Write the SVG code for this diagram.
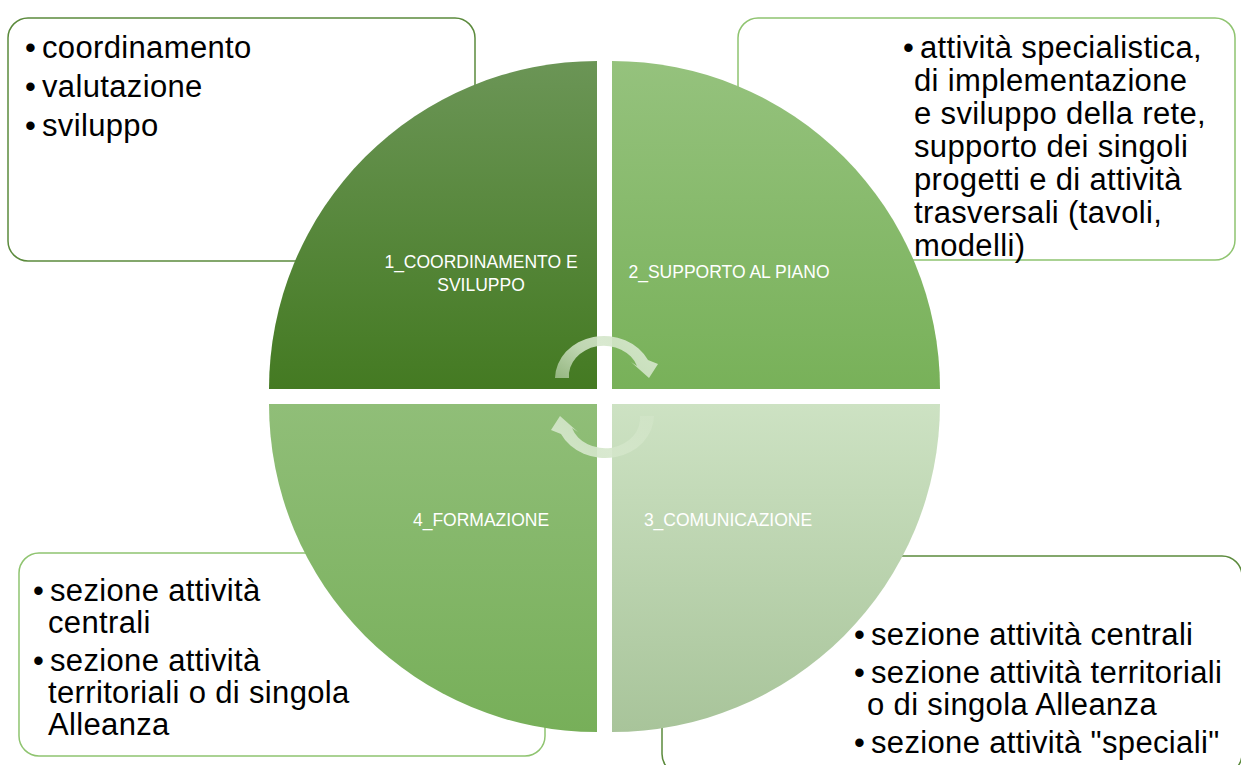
<svg xmlns="http://www.w3.org/2000/svg" width="1241" height="765" viewBox="0 0 1241 765">
<style>
.box{fill:#fff;stroke-width:1.5}
.dk{stroke:#5b8a3c}
.lt{stroke:#8fc470}
.t{font-family:"Liberation Sans",Arial,sans-serif;font-size:31px;letter-spacing:0.35px;fill:#000}
.q{font-family:"Liberation Sans",Arial,sans-serif;font-size:17.5px;fill:#fff;text-anchor:middle}
</style>
<defs>
<linearGradient id="g1" x1="0" y1="0" x2="0" y2="1"><stop offset="0" stop-color="#6b9556"/><stop offset="1" stop-color="#447a22"/></linearGradient>
<linearGradient id="g2" x1="0" y1="0" x2="0" y2="1"><stop offset="0" stop-color="#95c27d"/><stop offset="1" stop-color="#78b159"/></linearGradient>
<linearGradient id="g3" x1="0" y1="0" x2="0" y2="1"><stop offset="0" stop-color="#cde2c3"/><stop offset="1" stop-color="#a8c49a"/></linearGradient>
<linearGradient id="g4" x1="0" y1="0" x2="0" y2="1"><stop offset="0" stop-color="#90be78"/><stop offset="1" stop-color="#77af59"/></linearGradient>
<linearGradient id="ga" x1="0" y1="1" x2="1" y2="0.4"><stop offset="0" stop-color="#d4e6ca" stop-opacity="0.55"/><stop offset="0.5" stop-color="#d4e6ca" stop-opacity="0.85"/><stop offset="1" stop-color="#d4e6ca" stop-opacity="0.95"/></linearGradient>
</defs>

<g id="box-tl"><rect class="box dk" x="8" y="18" width="467" height="243" rx="20"/>
<text class="t" x="25" y="58">•</text><text class="t" x="42" y="58">coordinamento</text>
<text class="t" x="25" y="97">•</text><text class="t" x="42" y="97">valutazione</text>
<text class="t" x="25" y="136">•</text><text class="t" x="42" y="136">sviluppo</text></g>

<g id="box-tr"><rect class="box lt" x="738" y="18" width="497" height="242" rx="20"/>
<text class="t" x="903" y="58">•</text><text class="t" x="920" y="58">attività specialistica,</text>
<text class="t" x="914" y="91">di implementazione</text>
<text class="t" x="914" y="124">e sviluppo della rete,</text>
<text class="t" x="914" y="157">supporto dei singoli</text>
<text class="t" x="914" y="190">progetti e di attività</text>
<text class="t" x="914" y="223">trasversali (tavoli,</text>
<text class="t" x="914" y="256">modelli)</text></g>

<g id="box-bl"><rect class="box lt" x="19" y="553" width="526" height="203" rx="20"/>
<text class="t" x="33" y="601">•</text><text class="t" x="50" y="601">sezione attività</text>
<text class="t" x="48" y="633">centrali</text>
<text class="t" x="33" y="671">•</text><text class="t" x="50" y="671">sezione attività</text>
<text class="t" x="48" y="703">territoriali o di singola</text>
<text class="t" x="48" y="735">Alleanza</text></g>

<g id="box-br"><rect class="box dk" x="662" y="556" width="580" height="218" rx="20"/>
<text class="t" x="854" y="645">•</text><text class="t" x="871" y="645">sezione attività centrali</text>
<text class="t" x="854" y="683">•</text><text class="t" x="871" y="683">sezione attività territoriali</text>
<text class="t" x="867" y="715">o di singola Alleanza</text>
<text class="t" x="854" y="753">•</text><text class="t" x="871" y="753">sezione attività "speciali"</text></g>

<g id="q1"><path d="M597,389 L269,389 A328,328 0 0 1 597,61 Z" fill="url(#g1)"/>
<text class="q" x="481" y="268">1_COORDINAMENTO E</text><text class="q" x="481" y="291">SVILUPPO</text></g>
<g id="q2"><path d="M612,389 L612,61 A328,328 0 0 1 940,389 Z" fill="url(#g2)"/>
<text class="q" x="729" y="278">2_SUPPORTO AL PIANO</text></g>
<g id="q3"><path d="M612,404 L940,404 A328,328 0 0 1 612,732 Z" fill="url(#g3)"/>
<text class="q" x="728" y="526">3_COMUNICAZIONE</text></g>
<g id="q4"><path d="M597,404 L597,732 A328,328 0 0 1 269,404 Z" fill="url(#g4)"/>
<text class="q" x="481" y="526">4_FORMAZIONE</text></g>

<g id="connectors">
<path id="arr" d="M555,378 A49,43 0 0 1 648,360 L658,364 L649,378 L631,362 L637,366 A35,30 0 0 0 569,378 Z" fill="url(#ga)"/>
<path d="M555,378 A49,43 0 0 1 648,360 L658,364 L649,378 L631,362 L637,366 A35,30 0 0 0 569,378 Z" fill="url(#ga)" transform="rotate(180 604.5 397)"/>
</g>
</svg>
